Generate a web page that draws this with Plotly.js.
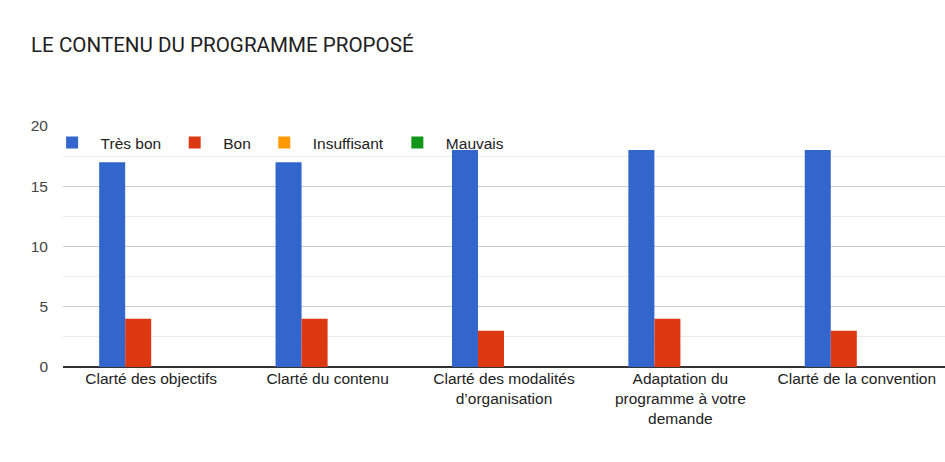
<!DOCTYPE html>
<html>
<head>
<meta charset="utf-8">
<script src="https://cdn.plot.ly/plotly-3.0.1.min.js"></script>
<style>html,body{margin:0;padding:0;background:#fff;}#chart{width:945px;height:462px;}</style>
</head>
<body>
<div id="chart"></div>
<script>
const categories = ["Clarté des objectifs", "Clarté du contenu", "Clarté des modalités<br>d’organisation", "Adaptation du<br>programme à votre<br>demande", "Clarté de la convention"];
const seriesNames = ["Très bon", "Bon", "Insuffisant", "Mauvais"];
const tresBon = [17, 17, 18, 18, 18];
const bon = [4, 4, 3, 4, 3];
const insuffisant = [0, 0, 0, 0, 0];
const mauvais = [0, 0, 0, 0, 0];
const colors = ["#3366cc", "#dc3912", "#ff9900", "#109618"];
const values = [tresBon, bon, insuffisant, mauvais];

const traces = values.map((v, i) => ({
  type: "bar",
  name: seriesNames[i],
  x: categories,
  y: v,
  marker: {color: colors[i], line: {width: 0}},
  hoverinfo: "none"
}));

const layout = {
  width: 945, height: 462,
  margin: {l: 63, r: 0, t: 126, b: 95},
  paper_bgcolor: "#fff", plot_bgcolor: "#fff",
  font: {family: "Arial", size: 15.5, color: "#222"},
  title: {text: "LE CONTENU DU PROGRAMME PROPOSÉ", x: 31/945, xref: "container", xanchor: "left", y: 0.902, yref: "container", yanchor: "middle",
          font: {family: "Roboto", size: 20.6, color: "#212121"}},
  barmode: "group",
  bargap: 0.41,
  bargroupgap: 0,
  showlegend: true,
  legend: {orientation: "h", x: -0.022, xanchor: "left", y: 1.0, yanchor: "top", bgcolor: "rgba(0,0,0,0)",
           itemwidth: 47,
           font: {family: "Arial", size: 15.5, color: "#222"}, traceorder: "normal"},
  xaxis: {type: "category", showgrid: false, showline: false, zeroline: false, ticks: "", tickfont: {family: "Arial", size: 15.5, color: "#222"}, automargin: false},
  yaxis: {range: [0, 20], dtick: 5, tick0: 0, showgrid: true, gridcolor: "#cccccc", gridwidth: 1,
          zeroline: true, zerolinecolor: "#333333", zerolinewidth: 1.5, showline: false, ticks: "",
          tickfont: {family: "Arial", size: 15.5, color: "#444"}, ticklabelstandoff: 14,
          minor: {dtick: 2.5, tick0: 0, showgrid: true, gridcolor: "#ebebeb", gridwidth: 1}}
};
Plotly.newPlot("chart", traces, layout, {displayModeBar: false, staticPlot: true});
</script>
</body>
</html>
